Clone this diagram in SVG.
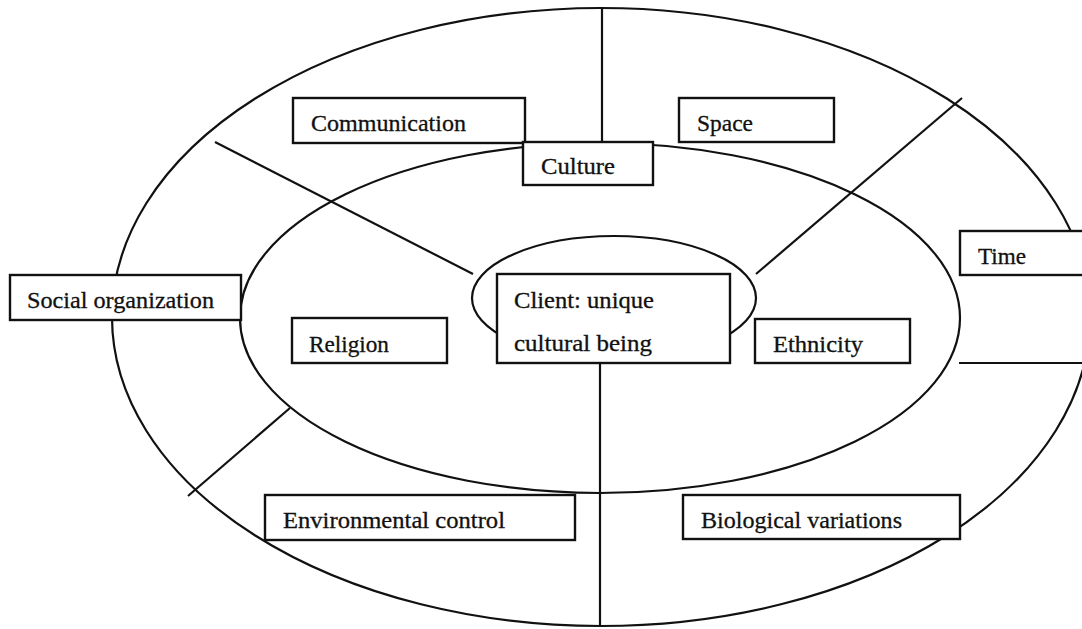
<svg xmlns="http://www.w3.org/2000/svg" width="1082" height="629" viewBox="0 0 1082 629">
<style>
.ring{fill:none;stroke:#111;stroke-width:2.2}
.conn line{stroke:#111;stroke-width:2.2}
.box rect{fill:#fff;stroke:#111;stroke-width:2.4}
.box text{font-family:"Liberation Serif","Times New Roman",serif;font-size:23px;fill:#111;stroke:#111;stroke-width:0.3}
</style>
<rect width="1082" height="629" fill="#fff"/>
<g id="rings">
<ellipse class="ring" cx="601" cy="317" rx="489" ry="309"/>
<ellipse class="ring" cx="600" cy="318" rx="360" ry="175"/>
<ellipse class="ring" cx="614" cy="298" rx="142" ry="62"/>
</g>
<g id="connectors" class="conn">
<line x1="602" y1="8" x2="602" y2="142"/>
<line x1="215" y1="142" x2="473" y2="274"/>
<line x1="756" y1="274" x2="962" y2="98"/>
<line x1="959" y1="363" x2="1082" y2="363"/>
<line x1="600" y1="363" x2="600" y2="626"/>
<line x1="290" y1="408" x2="188" y2="496"/>
</g>
<g id="communication" class="box"><rect x="293" y="98" width="232" height="45"/><text x="311" y="131" textLength="155" lengthAdjust="spacingAndGlyphs">Communication</text></g>
<g id="culture" class="box"><rect x="523" y="142" width="130" height="43"/><text x="541" y="174" textLength="74" lengthAdjust="spacingAndGlyphs">Culture</text></g>
<g id="space" class="box"><rect x="679" y="98" width="155" height="44"/><text x="697" y="131" textLength="56" lengthAdjust="spacingAndGlyphs">Space</text></g>
<g id="time" class="box"><rect x="960" y="231" width="130" height="44"/><text x="978" y="264" textLength="48" lengthAdjust="spacingAndGlyphs">Time</text></g>
<g id="social-organization" class="box"><rect x="10" y="275" width="231" height="45"/><text x="27" y="308" textLength="187" lengthAdjust="spacingAndGlyphs">Social organization</text></g>
<g id="religion" class="box"><rect x="292" y="318" width="155" height="45"/><text x="309" y="352" textLength="80" lengthAdjust="spacingAndGlyphs">Religion</text></g>
<g id="client" class="box"><rect x="497" y="274" width="233" height="89"/><text x="514" y="308" textLength="140" lengthAdjust="spacingAndGlyphs">Client: unique</text><text x="514" y="351" textLength="138" lengthAdjust="spacingAndGlyphs">cultural being</text></g>
<g id="ethnicity" class="box"><rect x="755" y="319" width="155" height="44"/><text x="773" y="352" textLength="90" lengthAdjust="spacingAndGlyphs">Ethnicity</text></g>
<g id="environmental-control" class="box"><rect x="265" y="495" width="310" height="45"/><text x="283" y="528" textLength="222" lengthAdjust="spacingAndGlyphs">Environmental control</text></g>
<g id="biological-variations" class="box"><rect x="683" y="495" width="277" height="44"/><text x="701" y="528" textLength="201" lengthAdjust="spacingAndGlyphs">Biological variations</text></g>
</svg>
